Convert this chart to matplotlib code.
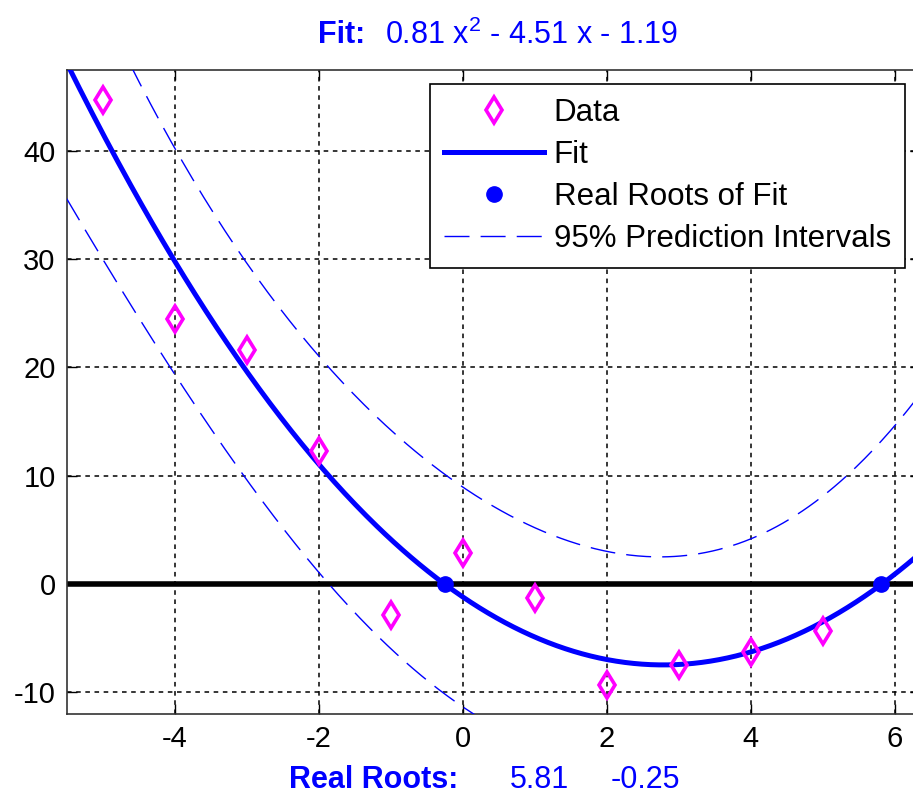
import numpy as np
import matplotlib
matplotlib.use("Agg")
import matplotlib.pyplot as plt

plt.rcParams['font.family'] = ['Liberation Sans', 'DejaVu Sans']
plt.rcParams['mathtext.default'] = 'regular'
plt.rcParams['axes.unicode_minus'] = False

# data
x_data = [-5, -4, -3, -2, -1, 0, 1, 2, 3, 4, 5]
y_data = [44.7, 24.5, 21.6, 12.3, -2.9, 2.9, -1.3, -9.3, -7.5, -6.3, -4.3]
fit_coef = [0.81, -4.51, -1.19]
roots = [5.81, -0.25]
t_crit = 2.306  # t(0.975, 8 dof)

xlim = (-5.5, 6.35)
ylim = (-12.0, 47.46)

# prediction interval from the data
xd = np.array(x_data, dtype=float)
yd = np.array(y_data, dtype=float)
X = np.vstack([xd**2, xd, np.ones_like(xd)]).T
resid = yd - np.polyval(fit_coef, xd)
s = np.sqrt(np.sum(resid**2) / (len(xd) - 3))
XtX_inv = np.linalg.inv(X.T @ X)

xs = np.linspace(xlim[0], xlim[1], 400)
Xs = np.vstack([xs**2, xs, np.ones_like(xs)]).T
ys = np.polyval(fit_coef, xs)
h = np.einsum('ij,jk,ik->i', Xs, XtX_inv, Xs)
delta = t_crit * s * np.sqrt(1 + h)

fig = plt.figure(figsize=(9.13, 7.97), dpi=100)
# axes runs a little past the right edge of the picture, like the reference
ax = fig.add_axes([66.7/913, 1 - 714/797, (920 - 66.7)/913, (714 - 70)/797])

ax.axhline(0, color='black', lw=4, zorder=2)
ax.plot(x_data, y_data, ls='none', marker='d', ms=13, mfc='none', mec='#ff00ff',
        mew=2.6, label='Data', zorder=5)
ax.plot(xs, ys, color='#0000ff', lw=3.6, label='Fit', zorder=4)
ax.plot(roots, [0, 0], ls='none', marker='o', ms=11, color='#0000ff',
        label='Real Roots of Fit', zorder=6)
ax.plot(xs, ys + delta, color='#0000ff', lw=1, dashes=(18, 8),
        label='95% Prediction Intervals', zorder=3)
ax.plot(xs, ys - delta, color='#0000ff', lw=1, dashes=(18, 8), zorder=3)

ax.set_xlim(*xlim)
ax.set_ylim(*ylim)
ax.set_xticks([-4, -2, 0, 2, 4, 6])
ax.set_yticks([-10, 0, 10, 20, 30, 40])
ax.grid(True, color='black', ls=(0, (3, 3)), lw=1.1)
ax.tick_params(direction='in', top=True, right=True, length=7, width=1,
               labelsize=21, pad=8)
for sp in ax.spines.values():
    sp.set_linewidth(1.2)
    sp.set_color('#333333')

leg = ax.legend(loc='upper right', fontsize=22.5, handlelength=3.2, handletextpad=0.3,
                borderpad=0.45, labelspacing=0.38, fancybox=False, framealpha=1,
                edgecolor='black', borderaxespad=0,
                bbox_to_anchor=((905 - 66.7)/(920 - 66.7), 1 - 14/644))
leg.get_frame().set_linewidth(1.2)

blue = '#0000ff'
fig.text(318/913, 1 - 35/797, 'Fit:', color=blue, fontsize=22, fontweight='bold',
         va='center', ha='left')
fig.text(385/913, 1 - 35/797, '0.81 x$^{2}$ - 4.51 x - 1.19', color=blue, fontsize=22,
         va='center', ha='left')
fig.text(289/913, 1 - 780/797, 'Real Roots:', color=blue, fontsize=22,
         fontweight='bold', va='center', ha='left')
fig.text(510/913, 1 - 780/797, '5.81', color=blue, fontsize=22, va='center', ha='left')
fig.text(611/913, 1 - 780/797, '-0.25', color=blue, fontsize=22, va='center', ha='left')

fig.savefig('out.png', dpi=100)
